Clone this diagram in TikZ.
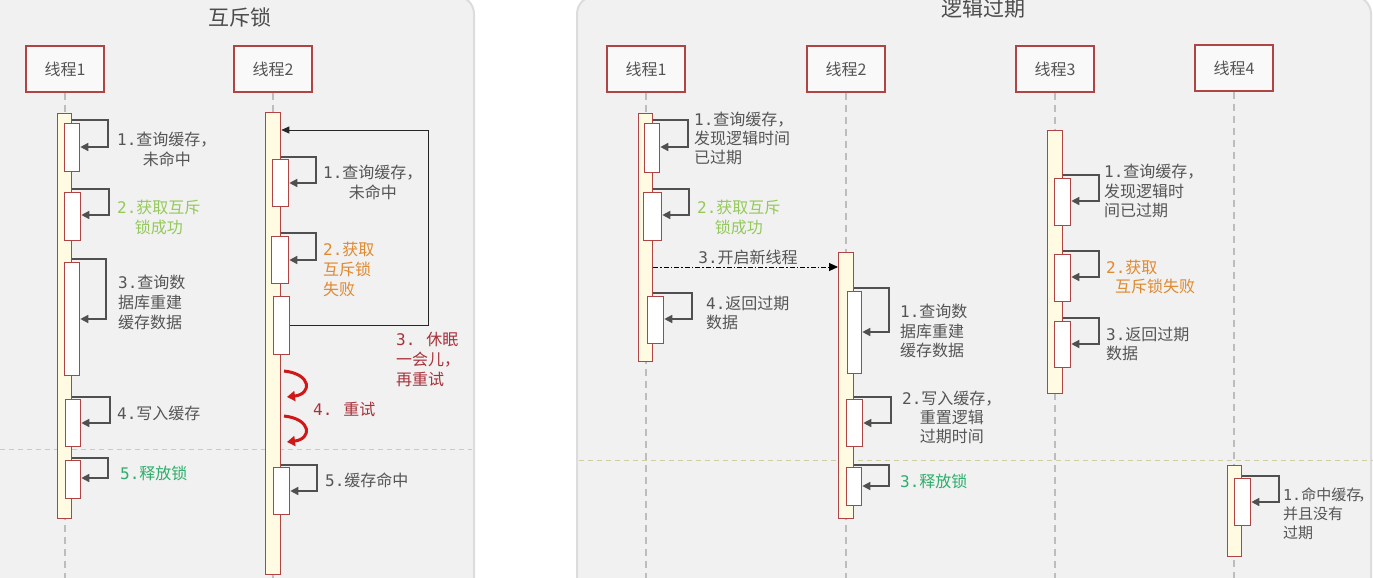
\documentclass[tikz,border=0pt]{standalone}
\usepackage{fontspec}
\setmainfont{Noto Sans CJK SC}
\newfontfamily\numf{DejaVu Sans Mono}
\usetikzlibrary{arrows.meta}
\definecolor{bord}{HTML}{B04444}
\definecolor{barfill}{HTML}{FFFBE3}
\definecolor{txtgray}{HTML}{555555}
\definecolor{lgreen}{HTML}{94C95A}
\definecolor{dgreen}{HTML}{2DAE6A}
\definecolor{orng}{HTML}{E0892E}
\definecolor{dred}{HTML}{A8323A}
\definecolor{panelbg}{HTML}{F1F1F1}
\definecolor{paneledge}{HTML}{DCDCDC}
\definecolor{sepcol}{HTML}{CFCFA2}
\definecolor{lifecol}{HTML}{BDBDBD}
\definecolor{arrcol}{HTML}{505050}
\definecolor{redarrow}{HTML}{D01818}
\newcommand\nm[1]{{\numf #1}}
\newcommand\actbox[6]{\node[#1, anchor=north west, minimum width=#4-#2, minimum height=#5-#3] (#6) at (#2,#3) {};}
\newcommand\selfmsg[5]{\draw[selfarr] (#1.east |- 0,#3) -- (#4,#3) -- (#4,#5) -- (#2.east |- 0,#5);}
\begin{document}
\begin{tikzpicture}[x=1pt,y=-1pt,
  panel/.style={fill=panelbg, draw=paneledge, line width=2pt, rounded corners=18pt},
  actor/.style={draw=bord, line width=1.4pt, fill=white!60!panelbg, minimum width=78pt, minimum height=46pt, inner sep=0pt, text=txtgray, font=\fontsize{16}{19}\selectfont},
  outerbar/.style={draw=bord, line width=1.3pt, fill=barfill, inner sep=0pt},
  innerbox/.style={draw=bord, line width=1.3pt, fill=white, inner sep=0pt},
  selfarr/.style={draw=arrcol, line width=1.5pt, -{Triangle[length=8pt,width=8pt]}},
  lifeline/.style={draw=lifecol, line width=1.5pt, dash pattern=on 7pt off 5pt},
  sepline/.style={draw=sepcol, line width=1pt, dash pattern=on 5pt off 4pt},
  lbl/.style={anchor=base west, inner sep=0pt, text=txtgray, font=\fontsize{16}{19.5}\selectfont},
  ttl/.style={text=txtgray!90!black, font=\fontsize{21}{24}\selectfont, inner sep=0pt},
  looparr/.style={draw=black!85, line width=0.9pt, -{Triangle[length=8pt,width=7pt]}},
  dasharr/.style={draw=black, line width=0.9pt, dash pattern=on 5pt off 2pt on 1.5pt off 2pt, -{Triangle[length=9pt,width=8pt]}},
  redcurve/.style={draw=redarrow, line width=3pt, -{Triangle[length=8pt,width=10pt]}}
]
\useasboundingbox (0,0) rectangle (1373,578);
\fill[white] (0,0) rectangle (1373,578);
% panels
\path[panel] (-40,-4) rectangle (474,640);
\path[panel] (577,-4) rectangle (1371,640);
% titles
\node[ttl] (t1) at (240,17) {互斥锁};
\node[ttl] (t2) at (983,9) {逻辑过期};
% separators
\coordinate (s1a) at (0,449); \coordinate (s1b) at (472,449);
\coordinate (s2a) at (579,460); \coordinate (s2b) at (1373,460);
\draw[sepline] (s1a) -- (s1b);
\draw[sepline] (s2a) -- (s2b);
% ===== left panel =====
\node[actor] (a1) at (65,69) {线程1};
\node[actor] (a2) at (273,69) {线程2};
\coordinate (a1e) at (65,578); \coordinate (a2e) at (273,578);
\draw[lifeline] (a1.south) -- (a1e);
\draw[lifeline] (a2.south) -- (a2e);
\actbox{outerbar}{57}{113}{71}{518}{L1o}
\actbox{outerbar}{265}{112}{280}{574}{L2o}
% thread 1
\actbox{innerbox}{64}{123}{79}{171}{L1b1}
\selfmsg{L1o}{L1b1}{120}{108}{147}
\node[lbl, align=center] (l11) at (117,165) {\nm{1.}查询缓存，\\未命中};
\actbox{innerbox}{64}{192}{80}{240}{L1b2}
\selfmsg{L1o}{L1b2}{189}{109}{215}
\node[lbl, align=center, text=lgreen] (l12) at (117,233) {\nm{2.}获取互斥\\锁成功};
\actbox{innerbox}{64}{262}{79}{375}{L1b3}
\selfmsg{L1o}{L1b3}{259}{106}{319}
\node[lbl, align=left, font=\fontsize{16}{20}\selectfont] (l13) at (118,328.5) {\nm{3.}查询数\\据库重建\\缓存数据};
\actbox{innerbox}{65}{399}{80}{446}{L1b4}
\selfmsg{L1o}{L1b4}{397}{110}{423}
\node[lbl] (l14) at (117,419.5) {\nm{4.}写入缓存};
\actbox{innerbox}{65}{460}{80}{498}{L1b5}
\selfmsg{L1o}{L1b5}{458}{108}{478}
\node[lbl, text=dgreen] (l15) at (120,479.5) {\nm{5.}释放锁};
% thread 2
\actbox{innerbox}{272}{159}{288}{206}{L2b1}
\selfmsg{L2o}{L2b1}{157}{316}{183}
\node[lbl, align=center] (l21) at (323,198) {\nm{1.}查询缓存，\\未命中};
\actbox{innerbox}{271}{236}{288}{283}{L2b2}
\selfmsg{L2o}{L2b2}{233}{316}{260}
\node[lbl, align=left, font=\fontsize{16}{20}\selectfont, text=orng] (l22) at (323,295.5) {\nm{2.}获取\\互斥锁\\失败};
\actbox{innerbox}{273}{296}{289}{354}{L2b3}
\draw[looparr] (L2b3.east |- 0,325) -- (428,325) -- (428,130) -- (L2o.east |- 0,130);
\node[lbl, align=left, font=\fontsize{16}{20}\selectfont, text=dred] (l23) at (396,385.5) {\nm{3.}\hspace{11pt}休眠\\一会儿，\\再重试};
\coordinate (r1s) at (284,371); \coordinate (r1e) at (287,397);
\coordinate (r2s) at (284,416); \coordinate (r2e) at (287,442);
\draw[redcurve] (r1s) .. controls (312,374) and (312,394) .. (r1e);
\draw[redcurve] (r2s) .. controls (312,419) and (312,439) .. (r2e);
\node[lbl, text=dred] (l24) at (313,415.5) {\nm{4.}\hspace{11pt}重试};
\actbox{innerbox}{273}{467}{289}{514}{L2b5}
\selfmsg{L2o}{L2b5}{465}{317}{491}
\node[lbl] (l25) at (325,486.5) {\nm{5.}缓存命中};
% ===== right panel =====
\node[actor] (b1) at (646,69) {线程1};
\node[actor] (b2) at (846,69) {线程2};
\node[actor] (b3) at (1055,69) {线程3};
\node[actor] (b4) at (1234,68) {线程4};
\coordinate (b1e) at (646,578); \coordinate (b2e) at (846,578);
\coordinate (b3e) at (1055,578); \coordinate (b4e) at (1234,578);
\draw[lifeline] (b1.south) -- (b1e);
\draw[lifeline] (b2.south) -- (b2e);
\draw[lifeline] (b3.south) -- (b3e);
\draw[lifeline] (b4.south) -- (b4e);
\actbox{outerbar}{638}{113}{652}{361}{R1o}
\actbox{outerbar}{838}{252}{853}{518}{R2o}
\actbox{outerbar}{1047}{130}{1062}{393}{R3o}
\actbox{outerbar}{1227}{465}{1241}{556}{R4o}
% R thread 1
\actbox{innerbox}{644}{123}{659}{172}{R1b1}
\selfmsg{R1o}{R1b1}{120}{688}{147}
\node[lbl, align=left, font=\fontsize{16}{19}\selectfont] (m11) at (694,163.5) {\nm{1.}查询缓存，\\发现逻辑时间\\已过期};
\actbox{innerbox}{643}{192}{661}{240}{R1b2}
\selfmsg{R1o}{R1b2}{189}{689}{215}
\node[lbl, align=center, text=lgreen] (m12) at (697,233) {\nm{2.}获取互斥\\锁成功};
\draw[dasharr] (R1o.east |- 0,267) -- (R2o.west |- 0,267);
\node[lbl, anchor=base] (m13) at (748,263.5) {\nm{3.}开启新线程};
\actbox{innerbox}{647}{296}{663}{343}{R1b4}
\selfmsg{R1o}{R1b4}{293}{692}{319}
\node[lbl, align=left, font=\fontsize{16}{19}\selectfont] (m14) at (706,328.5) {\nm{4.}返回过期\\数据};
% R thread 2
\actbox{innerbox}{847}{291}{861}{373}{R2b1}
\selfmsg{R2o}{R2b1}{288}{889}{332}
\node[lbl, align=left] (m21) at (900,356.5) {\nm{1.}查询数\\据库重建\\缓存数据};
\actbox{innerbox}{846}{399}{862}{446}{R2b2}
\selfmsg{R2o}{R2b2}{397}{891}{423}
\node[lbl, align=center, font=\fontsize{16}{19}\selectfont] (m22) at (902,442.5) {\nm{2.}写入缓存，\\重置逻辑\\过期时间};
\actbox{innerbox}{846}{467}{861}{505}{R2b3}
\selfmsg{R2o}{R2b3}{465}{889}{486}
\node[lbl, text=dgreen] (m23) at (900,487.5) {\nm{3.}释放锁};
% R thread 3
\actbox{innerbox}{1054}{178}{1070}{225}{R3b1}
\selfmsg{R3o}{R3b1}{175}{1099}{201}
\node[lbl, align=left] (m31) at (1104,216.5) {\nm{1.}查询缓存，\\发现逻辑时\\间已过期};
\actbox{innerbox}{1054}{254}{1070}{301}{R3b2}
\selfmsg{R3o}{R3b2}{251}{1099}{277}
\node[lbl, align=left, font=\fontsize{16}{19}\selectfont, text=orng] (m32) at (1106,292.5) {\nm{2.}获取\\\hspace*{9pt}互斥锁失败};
\actbox{innerbox}{1054}{321}{1070}{367}{R3b3}
\selfmsg{R3o}{R3b3}{318}{1099}{344}
\node[lbl, align=left, font=\fontsize{16}{19}\selectfont] (m33) at (1106,359.5) {\nm{3.}返回过期\\数据};
% R thread 4
\actbox{innerbox}{1234}{478}{1250}{525}{R4b1}
\selfmsg{R4o}{R4b1}{476}{1279}{502}
\node[lbl, align=left, font=\fontsize{15}{19}\selectfont] (m41) at (1283,538.5) {\nm{1.}命中缓存\hspace{-3pt}，\\并且没有\\过期};
\end{tikzpicture}
\end{document}
